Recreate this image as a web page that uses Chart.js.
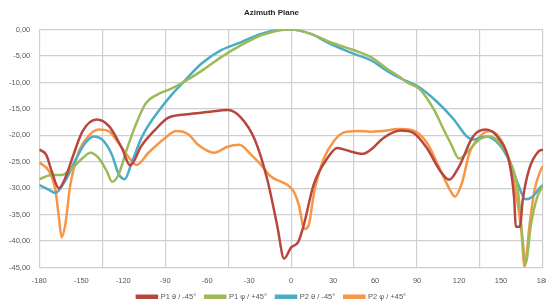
<!DOCTYPE html>
<html>
<head>
<meta charset="utf-8">
<script src="https://cdn.jsdelivr.net/npm/chart.js@4/dist/chart.umd.min.js"></script>
<style>
  html, body { margin: 0; padding: 0; background: #fff; }
  #chart { display: block; }
</style>
</head>
<body>
<canvas id="chart" width="546" height="307"></canvas>
<script>
// azimuth angles (deg) and gain (dB), one pair of arrays per trace
const p1ThetaDeg = [-180, -175, -171, -166, -161, -156, -149, -139, -130, -121, -115, -107, -97, -88, -74, -60, -45, -36, -26, -17, -10, -5, 0, 5, 9, 16, 26, 33, 42, 51, 57, 66, 78, 87, 97, 106, 113, 120, 130, 139, 149, 156, 159.5, 160.5, 163.5, 165.5, 170, 177, 180];
const p1ThetaDb = [-22.7, -23.7, -26.9, -30, -27.8, -24, -19.2, -17, -18.3, -22.4, -25.7, -22, -18.9, -16.7, -16, -15.6, -15.2, -16.6, -20.8, -28.4, -37, -43.3, -41.2, -40.2, -37, -29.4, -24.3, -22.4, -23, -23.5, -22.7, -20.5, -19.1, -19.5, -22.4, -26.5, -28.4, -25.9, -20.2, -18.9, -20.8, -25.2, -32.3, -37.3, -37.3, -32.3, -26.5, -23, -22.7];

const p1PhiDeg = [-180, -171, -164, -156.5, -149, -143.5, -137.5, -131.5, -128, -123.5, -117.5, -111.5, -104, -95, -86, -78, -64, -50, -36, -21.5, -7, 0, 14, 28, 45, 57, 68.5, 78, 83, 92, 102, 109, 114, 120, 127.5, 135, 142, 149, 156, 162, 165.5, 167.5, 171.5, 176, 180];
const p1PhiDb = [-28.3, -27.5, -27.5, -26.2, -24.3, -23.3, -24.3, -26.9, -28.8, -27.5, -22.7, -18.3, -14, -12.2, -11.2, -10.1, -7.8, -5.2, -3, -1.1, -0.1, 0, -0.8, -2.4, -3.9, -5.2, -7.4, -9, -10, -11.3, -15.1, -18.9, -21.5, -24.4, -22.7, -20.7, -20.2, -21.4, -24.6, -30.3, -39.9, -44.3, -36.7, -31.6, -29.5];

const p2ThetaDeg = [-180, -173, -168.5, -161, -154, -147, -141, -135, -128, -123.5, -119, -114, -107, -104, -95, -85, -78, -64, -50, -36, -21.5, -7, 0, 14, 28, 45, 57, 68.5, 78, 92, 104, 116, 125.5, 130, 139.5, 149, 156, 162, 167.5, 172.5, 178.5, 180];
const p2ThetaDb = [-29.4, -30.3, -30.9, -28.4, -24.6, -21.4, -20.2, -20.8, -23.7, -27.2, -28.3, -25.2, -20.5, -19, -15.5, -12.2, -10.2, -6.4, -3.9, -2.4, -0.8, 0, 0, -0.8, -2.7, -4.6, -5.8, -7.8, -9.2, -11, -13.6, -16.9, -20.2, -20.8, -20.2, -21.8, -24.9, -29.1, -32.1, -31.6, -29.7, -29.4];

const p2PhiDeg = [-180, -173, -168.5, -166, -164, -161.3, -158, -152, -145, -137.5, -130.5, -123.5, -116.5, -110.5, -102, -90, -82, -73.5, -66.5, -55, -45, -37, -28.5, -21.5, -14.5, -7, -2.5, 2, 5.5, 9.5, 12.5, 16.5, 23.5, 30.5, 37.5, 47, 57, 68.5, 76, 86, 97, 106.5, 113.5, 117, 122, 127.5, 135, 142, 149, 154, 159.5, 164.5, 166.8, 170.5, 174, 178.5, 180];
const p2PhiDb = [-25.1, -26.8, -30.3, -35.4, -39.3, -36.7, -29.7, -23.3, -20.2, -18.9, -19.2, -21.4, -24, -25.6, -23.3, -20.5, -19.2, -19.8, -21.8, -23.3, -22.1, -21.8, -23.7, -25.6, -27.8, -28.8, -29.4, -30.7, -33.2, -37.7, -37, -30.7, -24.3, -21.1, -19.5, -19.2, -19.3, -19.1, -18.8, -19, -21.4, -26.5, -30.3, -31.6, -29.1, -23.3, -20.2, -19.2, -20.5, -23.3, -29.1, -38, -44.8, -36.7, -30.3, -26.5, -25.8];

const seriesNames = ['P1 θ / -45°', 'P1 φ / +45°', 'P2 θ / -45°', 'P2 φ / +45°'];
const seriesColors = ['#b8463f', '#9bbb59', '#4bacc6', '#f79646'];

function toPoints(deg, db) {
    return deg.map((a, i) => ({ x: a, y: db[i] }));
}

const traces = [
    toPoints(p1ThetaDeg, p1ThetaDb),
    toPoints(p1PhiDeg, p1PhiDb),
    toPoints(p2ThetaDeg, p2ThetaDb),
    toPoints(p2PhiDeg, p2PhiDb)
];

const gridColor = '#cfcfcf';
const textColor = '#595959';
const fontFamily = "'Liberation Sans', Arial, sans-serif";

new Chart(document.getElementById('chart').getContext('2d'), {
    type: 'line',
    data: {
        datasets: traces.map((pts, i) => ({
            label: seriesNames[i],
            data: pts,
            borderColor: seriesColors[i],
            backgroundColor: seriesColors[i],
            borderWidth: 2.5,
            pointRadius: 0,
            cubicInterpolationMode: 'monotone',
            fill: false
        }))
    },
    options: {
        responsive: false,
        animation: false,
        devicePixelRatio: 1,
        layout: {
            autoPadding: false,
            padding: { left: 0, right: 3, top: 0, bottom: -3.5 }
        },
        plugins: {
            title: {
                display: true,
                text: 'Azimuth Plane',
                color: '#262626',
                font: { family: fontFamily, size: 8, weight: 'bold' },
                padding: { top: 8, bottom: 12 }
            },
            legend: {
                position: 'bottom',
                labels: {
                    boxWidth: 20,
                    boxHeight: 2,
                    color: textColor,
                    font: { family: fontFamily, size: 7.5 },
                    padding: 9
                }
            },
            tooltip: { enabled: false }
        },
        scales: {
            x: {
                type: 'linear',
                min: -180,
                max: 180,
                border: { display: false },
                grid: {
                    drawTicks: false,
                    color: ctx => (ctx.tick && ctx.tick.value % 45 === 0) ? gridColor : 'rgba(0,0,0,0)',
                    lineWidth: 1.2
                },
                ticks: {
                    stepSize: 15,
                    autoSkip: false,
                    maxRotation: 0,
                    mirror: true,   // mirrored labels are not clipped to the thin axis box
                    padding: -18,
                    color: textColor,
                    font: { family: fontFamily, size: 7.5 },
                    callback: v => (v % 30 === 0 ? String(v) : '')
                },
                afterFit: scale => {
                    // let the end labels hang over the plot edge like the original
                    scale.paddingLeft = 0;
                    scale.paddingRight = 0;
                    scale.height = 16.5;
                }
            },
            y: {
                min: -45,
                max: 0,
                border: { display: false },
                grid: { drawTicks: false, color: gridColor, lineWidth: 1.2 },
                ticks: {
                    stepSize: 5,
                    padding: 9,
                    color: textColor,
                    font: { family: fontFamily, size: 7.5 },
                    callback: v => v.toFixed(2).replace('.', ',')
                }
            }
        }
    }
});
</script>
</body>
</html>
